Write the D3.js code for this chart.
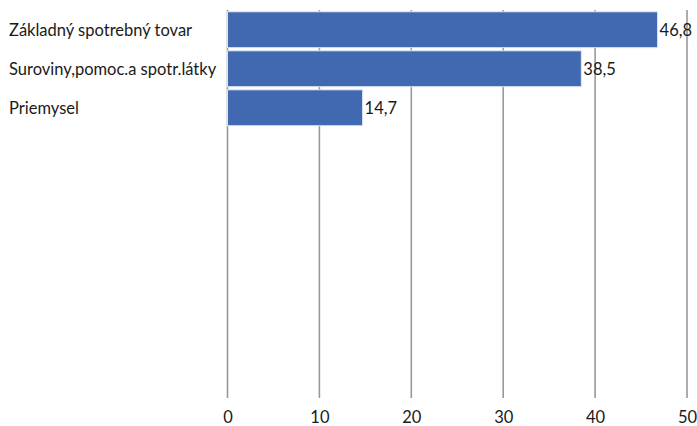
<!DOCTYPE html>
<html><head><meta charset="utf-8">
<script src="https://cdn.jsdelivr.net/npm/d3@7"></script>
<style>body{margin:0;background:#fff}svg{display:block}text{font-family:Lato,"Open Sans",sans-serif;fill:#1a1a1a}</style>
</head><body><svg id="c" width="697" height="426"></svg>
<script>
const categories = ["Základný spotrebný tovar", "Suroviny,pomoc.a spotr.látky", "Priemysel"];
const values = [46.8, 38.5, 14.7];
const valueLabels = ["46,8", "38,5", "14,7"];
const xTicks = [0, 10, 20, 30, 40, 50];

const svg = d3.select("#c");
const x = d3.scaleLinear().domain([0, 50]).range([227.5, 687]);
const y = d3.scaleBand().domain(categories).range([11, 126.5]).paddingInner(0.08).paddingOuter(0.02);
const fs = 16.5;
const ff = 'Lato,"Open Sans",sans-serif';

svg.append("g").selectAll("line").data(xTicks).join("line")
  .attr("x1", d => x(d)).attr("x2", d => x(d)).attr("y1", 10).attr("y2", 398)
  .attr("stroke", "#999").attr("stroke-width", 1.6);

svg.append("g").selectAll("rect").data(values).join("rect")
  .attr("x", x(0)).attr("y", (d, i) => y(categories[i]))
  .attr("width", d => x(d) - x(0)).attr("height", y.bandwidth())
  .attr("fill", "#4169B1").attr("stroke", "#dfe6f2").attr("stroke-width", 1);

svg.append("g").selectAll("text").data(values).join("text")
  .attr("x", d => x(d) + 2).attr("y", (d, i) => y(categories[i]) + y.bandwidth() / 2)
  .attr("dy", "0.35em").attr("font-size", fs).text((d, i) => valueLabels[i]);

svg.append("g").selectAll("text").data(categories).join("text")
  .attr("x", 9).attr("y", d => y(d) + y.bandwidth() / 2)
  .attr("dy", "0.35em").attr("font-size", fs).text(d => d);

const ax = svg.append("g").attr("transform", "translate(0,398)")
  .call(d3.axisBottom(x).tickValues(xTicks).tickSize(0).tickPadding(13).tickFormat(d3.format("d")));
ax.select(".domain").remove();
ax.selectAll("text").attr("font-size", fs).attr("font-family", ff).attr("fill", "#1a1a1a");
</script></body></html>
